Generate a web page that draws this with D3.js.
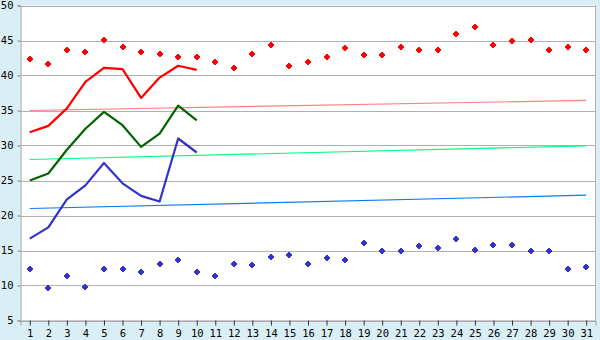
<!DOCTYPE html>
<html><head><meta charset="utf-8">
<script src="https://cdn.jsdelivr.net/npm/d3@7"></script>
<style>html,body{margin:0;padding:0;background:#daeff5;}svg{display:block;}</style>
</head><body>
<svg id="c" width="600" height="340"></svg>
<script>
const days = d3.range(1, 32);
const yTicks = [5, 10, 15, 20, 25, 30, 35, 40, 45, 50];
const redPoints = [42.3,41.7,43.7,43.4,45.1,44.0,43.4,43.1,42.6,42.7,42.0,41.1,43.1,44.3,41.4,42.0,42.7,43.9,43.0,43.0,44.1,43.7,43.6,46.0,46.9,44.3,44.9,45.1,43.7,44.0,43.7];
const bluePoints = [12.4,9.6,11.3,9.8,12.4,12.3,12.0,13.1,13.7,12.0,11.4,13.0,12.9,14.1,14.4,13.0,14.0,13.7,16.0,15.0,15.0,15.7,15.3,16.7,15.1,15.8,15.8,14.9,15.0,12.4,12.7];
const redLine = [31.9,32.8,35.3,39.1,41.1,40.9,36.8,39.7,41.4,40.8];
const greenLine = [25.0,26.0,29.4,32.4,34.8,32.9,29.8,31.7,35.7,33.6];
const blueLine = [16.7,18.3,22.3,24.3,27.5,24.6,22.8,22.0,31.0,29.0];
const trendDays = [1, 31];
const pinkTrend = [35.0, 36.45];
const greenTrend = [28.0, 29.95];
const blueTrend = [21.0, 22.9];

const svg = d3.select("#c");
const L = 20.5, R = 595.5, T = 5.5, B = 320.5;
const x = d3.scalePoint().domain(days).range([L, R]).padding(0.5);
const y = d3.scaleLinear().domain([5, 50]).range([B, T]);

svg.append("rect").attr("x", L).attr("y", T).attr("width", R - L).attr("height", B - T).attr("fill", "#fff");

// gridlines
svg.append("g").selectAll("line").data(yTicks).join("line")
  .attr("x1", L).attr("x2", R).attr("y1", d => Math.round(y(d)) + 0.5).attr("y2", d => Math.round(y(d)) + 0.5)
  .attr("stroke", "#b0b0b0").attr("stroke-width", 1);
svg.append("line").attr("x1", R).attr("x2", R).attr("y1", T).attr("y2", B).attr("stroke", "#b0b0b0");

// axes
const yAxis = svg.append("g").attr("transform", `translate(${L},0)`)
  .call(d3.axisLeft(y).tickValues(yTicks).tickSize(3).tickPadding(4));
const xAxis = svg.append("g").attr("transform", `translate(0,${B})`)
  .call(d3.axisBottom(x).tickSize(5).tickPadding(4));
[yAxis, xAxis].forEach(g => {
  g.select(".domain").attr("stroke", "#a0a0a0");
  g.selectAll(".tick line").attr("stroke", "#303030");
  g.selectAll("text").attr("fill", "#000").style("font-family", "'DejaVu Sans Mono', monospace").style("font-size", "10.5px");
});
yAxis.selectAll(".tick line").attr("stroke", "#808080");

// trend lines
const trends = [[pinkTrend, "#ff8080"], [greenTrend, "#00ff80"], [blueTrend, "#0a7cf0"]];
const tline = d3.line().x((d, i) => x(trendDays[i])).y(d => y(d));
trends.forEach(([vals, col]) => {
  svg.append("path").attr("d", tline(vals)).attr("fill", "none").attr("stroke", col).attr("stroke-width", 1.2);
});

// data lines
const dline = d3.line().x((d, i) => x(days[i])).y(d => y(d));
[[redLine, "#ff0000"], [greenLine, "#006400"], [blueLine, "#3333cc"]].forEach(([vals, col]) => {
  svg.append("path").attr("d", dline(vals)).attr("fill", "none").attr("stroke", col).attr("stroke-width", 2.2).attr("stroke-linejoin", "round");
});

// markers (small stepped diamond)
const marker = "M-1,-3h2v1h1v1h1v2h-1v1h-1v1h-2v-1h-1v-1h-1v-2h1v-1h1z";
[[redPoints, "#ff0000"], [bluePoints, "#3333cc"]].forEach(([vals, col]) => {
  svg.append("g").selectAll("path").data(vals).join("path")
    .attr("transform", (d, i) => `translate(${Math.round(x(days[i]))},${Math.round(y(d))})`)
    .attr("d", marker).attr("fill", col).attr("shape-rendering", "crispEdges");
});
</script>
</body></html>
